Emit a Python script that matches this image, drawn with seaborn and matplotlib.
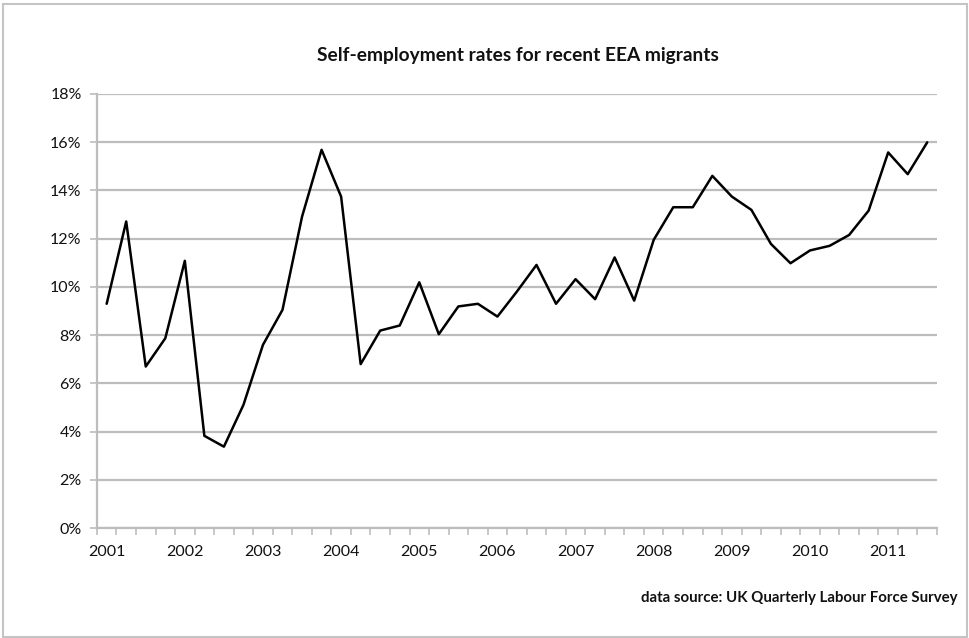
"""Self-employment rates for recent EEA migrants, quarterly 2001-2011."""
import matplotlib
matplotlib.use("Agg")
import matplotlib.pyplot as plt
from matplotlib.patches import Rectangle
from matplotlib.ticker import FixedLocator, FuncFormatter
import seaborn as sns
import pandas as pd

# quarterly series, 2001 Q1 .. 2011 Q3
quarters = [f"{y} Q{q}" for y in range(2001, 2012) for q in range(1, 5)][:43]
rate = [
    9.30, 12.71, 6.70, 7.87, 11.08, 3.83, 3.38, 5.11, 7.60, 9.05, 12.91, 15.68,
    13.74, 6.80, 8.19, 8.40, 10.19, 8.04, 9.19, 9.30, 8.77, 9.81, 10.91, 9.30,
    10.32, 9.49, 11.22, 9.43, 11.95, 13.30, 13.30, 14.60, 13.74, 13.19, 11.78,
    10.98, 11.51, 11.70, 12.15, 13.16, 15.57, 14.67, 15.99,
]
year_labels = [str(y) for y in range(2001, 2012)]
y_ticks = list(range(0, 19, 2))

df = pd.DataFrame({"quarter": quarters, "rate": rate})
df["pos"] = range(len(df))

sns.set_theme(style="white")
plt.rcParams["font.family"] = ["Lato", "DejaVu Sans"]

fig = plt.figure(figsize=(9.69, 6.38), dpi=100)
ax = fig.add_axes([0.1, 0.172, 0.867, 0.681])

sns.lineplot(data=df, x="pos", y="rate", color="black", linewidth=1.8, ax=ax)

grid_col = "#bdbdbd"
ax.set_xlim(-0.5, len(df) - 0.5)
ax.set_ylim(0, 18)
ax.set_yticks(y_ticks)
ax.yaxis.set_major_formatter(FuncFormatter(lambda v, _: f"{v:.0f}%"))
ax.yaxis.grid(True, color=grid_col, linewidth=1.6)
ax.set_axisbelow(True)

ax.set_xticks(range(0, len(df), 4))
ax.set_xticklabels(year_labels)
ax.xaxis.set_minor_locator(FixedLocator([i - 0.5 for i in range(len(df) + 1)]))
ax.tick_params(axis="x", which="major", length=0, pad=12, labelsize=11.5, colors="#111111")
ax.tick_params(axis="x", which="minor", bottom=True, length=5, width=1.2, color=grid_col)
ax.tick_params(axis="y", left=True, length=5, width=1.2, color=grid_col, pad=6,
               labelsize=11.5, labelcolor="#111111")

for s in ["top", "right"]:
    ax.spines[s].set_visible(False)
for s in ["left", "bottom"]:
    ax.spines[s].set_color(grid_col)
    ax.spines[s].set_linewidth(1.6)

ax.set_xlabel("")
ax.set_ylabel("")

fig.text(0.534, 0.913, "Self-employment rates for recent EEA migrants",
         ha="center", va="center", fontsize=13.8, fontweight="bold", color="#111111")
fig.text(0.988, 1 - 598 / 638, "data source: UK Quarterly Labour Force Survey",
         ha="right", va="center", fontsize=10.8, fontweight="bold", color="#111111")

fig.patches.append(Rectangle((3 / 969, 1 / 638), 964 / 969, 633 / 638,
                             transform=fig.transFigure, fill=False,
                             edgecolor="#c4c4c4", linewidth=1.5))

fig.savefig("out.png", dpi=100)
